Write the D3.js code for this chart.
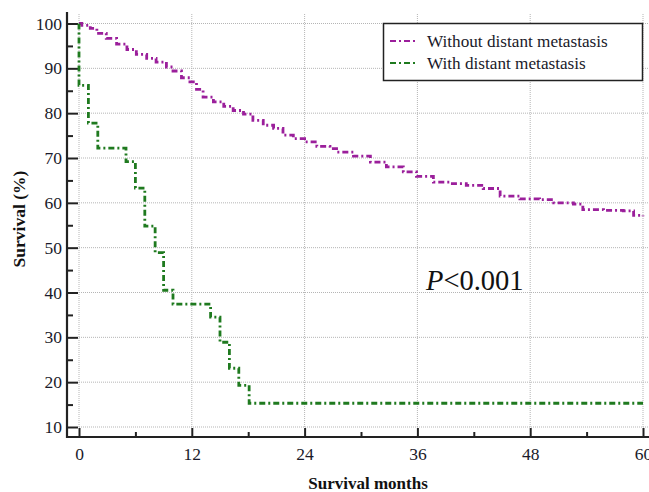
<!DOCTYPE html>
<html>
<head>
<meta charset="utf-8">
<script src="https://cdn.jsdelivr.net/npm/d3@7"></script>
<style>
  body { margin: 0; background: #fff; }
  text { font-family: "Liberation Serif", "Times New Roman", serif; }
</style>
</head>
<body>
<div id="chart"></div>
<script>
// survival curves
var withoutTimes = [0, 0.3, 1.2, 1.9, 2.9, 4.0, 5.1, 6.1, 7.2, 8.2, 9.3, 10.0, 10.9, 11.8, 12.5, 13.2, 14.3, 15.4, 16.4, 17.5, 18.5, 19.6, 20.7, 21.7, 22.8, 24.0, 25.3, 26.7, 27.4, 29.2, 31.0, 32.7, 34.5, 35.9, 37.7, 39.5, 41.2, 43.0, 44.8, 46.9, 49.0, 50.5, 52.6, 53.6, 55.8, 57.9, 59.0, 60];
var withoutValues = [100, 99.6, 98.9, 97.8, 96.7, 95.4, 94.2, 93.1, 92.2, 91.4, 90.3, 89.4, 87.9, 87.0, 85.3, 83.6, 82.5, 81.5, 80.6, 79.8, 78.4, 77.3, 76.6, 75.1, 74.3, 73.6, 72.6, 72.1, 71.3, 70.4, 69.1, 68.0, 66.9, 65.9, 64.6, 64.3, 63.9, 63.2, 61.5, 60.9, 60.7, 60.0, 59.7, 58.5, 58.3, 58.2, 57.2, 57.0];

var withTimes = [0, 0, 1.0, 2.0, 5.0, 6.0, 7.0, 8.1, 9.0, 10.0, 14.0, 15.0, 16.0, 17.0, 18.1, 60];
var withValues = [100, 86.2, 77.8, 72.2, 69.2, 63.3, 54.8, 48.9, 40.5, 37.4, 34.5, 28.9, 23.1, 19.3, 15.3, 15.3];

var xTicks = [0, 12, 24, 36, 48, 60];
var xMinorTicks = [6, 18, 30, 42, 54];
var yTicks = [10, 20, 30, 40, 50, 60, 70, 80, 90, 100];
var yMinorTicks = [15, 25, 35, 45, 55, 65, 75, 85, 95];

var seriesNames = ["Without distant metastasis", "With distant metastasis"];
var seriesColors = ["#9b1f9b", "#1f7a1f"];

var width = 649,
    height = 492;

var svg = d3.select("#chart")
    .append("svg")
    .attr("width", width)
    .attr("height", height);

var x = d3.scaleLinear().domain([0, 60]).range([79, 643]);
var y = d3.scaleLinear().domain([10, 100]).range([427, 23.5]);

var axisX = 67,
    axisY = 437;

// grid
var grid = svg.append("g").attr("class", "grid");
grid.selectAll(".vgrid")
    .data(xTicks)
    .enter().append("line")
    .attr("x1", function(d) { return x(d); })
    .attr("x2", function(d) { return x(d); })
    .attr("y1", 14)
    .attr("y2", y(10))
    .attr("stroke", "#b5b5b5")
    .attr("stroke-width", 1)
    .attr("stroke-dasharray", "1,1");
grid.selectAll(".hgrid")
    .data(yTicks)
    .enter().append("line")
    .attr("x1", x(0))
    .attr("x2", width)
    .attr("y1", function(d) { return y(d); })
    .attr("y2", function(d) { return y(d); })
    .attr("stroke", "#b5b5b5")
    .attr("stroke-width", 1)
    .attr("stroke-dasharray", "1,1");

// axes
svg.append("g")
    .attr("transform", "translate(0," + axisY + ")")
    .call(d3.axisBottom(x).tickValues(xTicks).tickSize(-9).tickPadding(11));
svg.append("g")
    .attr("transform", "translate(0," + axisY + ")")
    .call(d3.axisBottom(x).tickValues(xMinorTicks).tickSize(-5).tickFormat(""));

svg.append("g")
    .attr("transform", "translate(" + axisX + ",0)")
    .call(d3.axisLeft(y).tickValues(yTicks).tickSize(-11).tickPadding(5));
svg.append("g")
    .attr("transform", "translate(" + axisX + ",0)")
    .call(d3.axisLeft(y).tickValues(yMinorTicks).tickSize(-6).tickFormat(""));

svg.selectAll(".domain").remove();
svg.selectAll(".tick line").attr("stroke", "#222").attr("stroke-width", 2);
svg.selectAll(".tick text")
    .attr("font-family", "Liberation Serif, serif")
    .attr("font-size", 17.5)
    .attr("fill", "#1a1a2a");

svg.append("line")
    .attr("x1", axisX).attr("x2", width)
    .attr("y1", axisY).attr("y2", axisY)
    .attr("stroke", "#222").attr("stroke-width", 2.2);
svg.append("line")
    .attr("x1", axisX).attr("x2", axisX)
    .attr("y1", 12).attr("y2", axisY + 1)
    .attr("stroke", "#222").attr("stroke-width", 2.2);

// curves
var line = d3.line()
    .x(function(d) { return x(d[0]); })
    .y(function(d) { return y(d[1]); })
    .curve(d3.curveStepAfter);

var curves = [
    d3.zip(withoutTimes, withoutValues),
    d3.zip(withTimes, withValues)
];

svg.selectAll(".curve")
    .data(curves)
    .enter().append("path")
    .attr("class", "curve")
    .attr("d", line)
    .attr("fill", "none")
    .attr("stroke", function(d, i) { return seriesColors[i]; })
    .attr("stroke-width", 2.8)
    .attr("stroke-dasharray", "6,3,2,3");

// legend
var legend = svg.append("g");
legend.append("rect")
    .attr("x", 383.5).attr("y", 23.5)
    .attr("width", 259).attr("height", 57)
    .attr("fill", "#fff")
    .attr("stroke", "#222")
    .attr("stroke-width", 1.5);
seriesNames.forEach(function(name, i) {
    var ly = 41 + i * 22;
    legend.append("line")
        .attr("x1", 390).attr("x2", 417)
        .attr("y1", ly).attr("y2", ly)
        .attr("stroke", seriesColors[i])
        .attr("stroke-width", 2.2)
        .attr("stroke-dasharray", "6,3,2,3");
    legend.append("text")
        .attr("x", 427).attr("y", ly + 5.5)
        .attr("font-size", 17.2)
        .attr("fill", "#1a1a2a")
        .text(name);
});

// p value
var p = svg.append("text")
    .attr("x", 426).attr("y", 290)
    .attr("font-size", 28.5)
    .attr("fill", "#111");
p.append("tspan").attr("font-style", "italic").text("P");
p.append("tspan").text("<0.001");

// axis titles
svg.append("text")
    .attr("x", 368).attr("y", 489)
    .attr("text-anchor", "middle")
    .attr("font-size", 17)
    .attr("font-weight", "bold")
    .attr("fill", "#111")
    .text("Survival months");

svg.append("text")
    .attr("transform", "translate(25,219) rotate(-90)")
    .attr("text-anchor", "middle")
    .attr("font-size", 17.5)
    .attr("font-weight", "bold")
    .attr("fill", "#111")
    .text("Survival (%)");
</script>
</body>
</html>
